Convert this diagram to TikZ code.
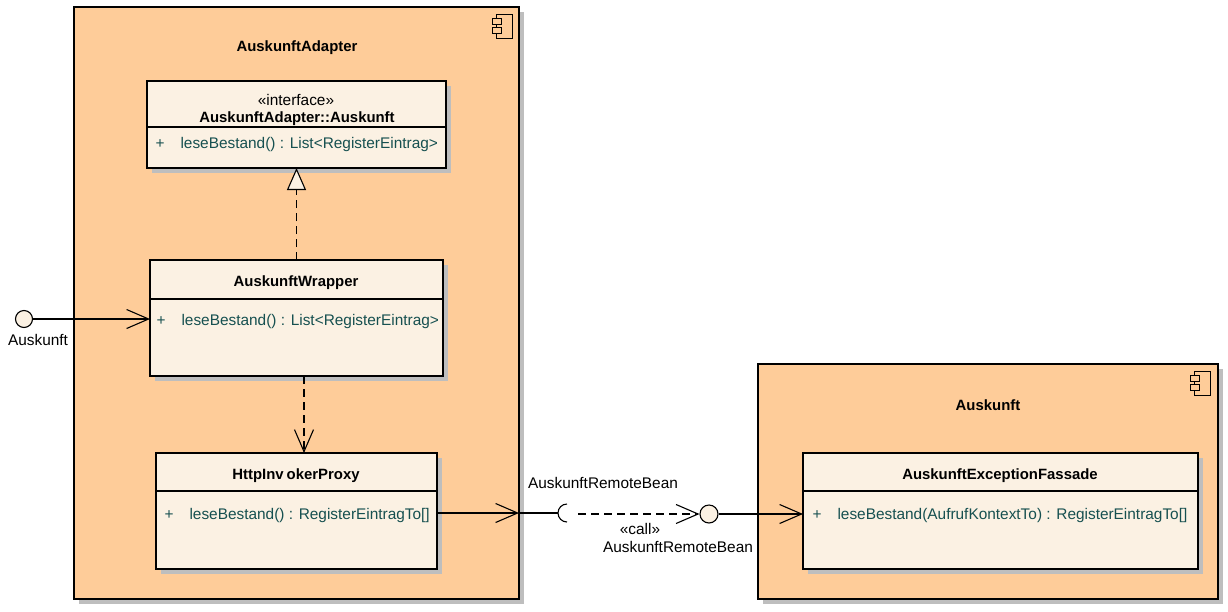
\documentclass[tikz,border=0pt]{standalone}
\usepackage{fontspec}
\setmainfont{Liberation Sans}
\usetikzlibrary{arrows.meta,shadows}
\definecolor{compfill}{RGB}{254,204,153}
\definecolor{classfill}{RGB}{251,241,227}
\definecolor{attrcolor}{RGB}{22,80,80}
\definecolor{shadowgray}{RGB}{190,190,190}
\newcommand{\umlclass}[5]{%
 \node[classbox,minimum width=#3,minimum height=#4] (#1) at (#2) {};%
 \draw ([yshift=-#5]#1.north west) -- ([yshift=-#5]#1.north east);%
}
\newcommand{\umlattr}[3]{%
 \node[attrtext] (#1) at (#2) {\makebox[25pt][l]{+}#3};%
}
\newcommand{\compicon}[2]{%
 \coordinate (#1) at (#2);%
 \draw[line width=1pt] (#1) rectangle ++(-16,24);%
 \draw[line width=1pt,fill=compfill] ([shift={(-20,4)}]#1) rectangle ++(9,6);%
 \draw[line width=1pt,fill=compfill] ([shift={(-20,13)}]#1) rectangle ++(9,6);%
}

\begin{document}
\begin{tikzpicture}[x=1pt,y=-1pt,line width=1.1pt,
  every node/.style={font=\fontsize{15.4}{18}\selectfont},
  compbox/.style={draw,fill=compfill,anchor=north west,inner sep=0,outer sep=0,
   drop shadow={shadow xshift=5pt,shadow yshift=-5pt,fill=shadowgray,opacity=1}},
  classbox/.style={draw,fill=classfill,anchor=north west,inner sep=0,outer sep=0,
   drop shadow={shadow xshift=5pt,shadow yshift=-5pt,fill=shadowgray,opacity=1}},
  titletext/.style={font=\fontsize{14.9}{17}\selectfont\bfseries},
  attrtext/.style={anchor=west,inner sep=0,text=attrcolor},
  portcircle/.style={draw,circle,fill=classfill,inner sep=0},
  openarrow/.style={-{Straight Barb[length=22pt,width=19pt]}},
  dashedline/.style={dash pattern=on 8pt off 5pt}]
  \useasboundingbox[fill=white] (0,0) rectangle (1228,611);
  \node[compbox,minimum width=445pt,minimum height=592pt] (adapter) at (74,7) {};
  \compicon{adaptericon}{512,14}
  \node[titletext] (adaptertitle) at (297,48) {AuskunftAdapter};
  \node[compbox,minimum width=460pt,minimum height=235pt] (auskunft) at (758,364) {};
  \compicon{auskunfticon}{1210,371}
  \node[titletext] (auskunfttitle) at (988,405) {Auskunft};

  \umlclass{interface}{147,81}{299pt}{87pt}{46pt}
  \node (interfacestereo) at (296,100) {«interface»};
  \node[titletext] (interfacetitle) at (297,119) {AuskunftAdapter::Auskunft};
  \umlattr{interfaceattr}{155,145}{leseBestand() : List<RegisterEintrag>}
  \umlclass{wrapper}{150,260}{293pt}{116pt}{39pt}
  \node[titletext] (wrappertitle) at (296,283) {AuskunftWrapper};
  \umlattr{wrapperattr}{156,322}{leseBestand() : List<RegisterEintrag>}
  \umlclass{proxy}{156,453}{281pt}{116pt}{38pt}
  \node[titletext] (proxytitle) at (296,476) {HttpInv\kern3pt okerProxy};
  \umlattr{proxyattr}{164,516}{leseBestand() : RegisterEintragTo[]}
  \umlclass{fassade}{803,453}{395pt}{116pt}{38pt}
  \node[titletext] (fassadetitle) at (1000,476) {AuskunftExceptionFassade};
  \umlattr{fassadeattr}{812,516}{leseBestand(AufrufKontextTo) : RegisterEintragTo[]}

  \draw[dashedline,-{Triangle[open,length=22pt,width=19pt,fill=classfill]}] (wrapper.north) -- (interface.south);
  \draw[dashedline,openarrow] ([xshift=7.5pt]wrapper.south) -- ([xshift=7.5pt]proxy.north);

  \node[portcircle,minimum size=17pt] (auskunftport) at (24,319) {};
  \node (auskunftlabel) at (38,340) {Auskunft};
  \draw[openarrow] (auskunftport) -- (auskunftport -| wrapper.west);

  \coordinate (adapterport) at (519,513);
  \coordinate (socket) at (567,513);
  \coordinate (callstart) at (578,514);
  \node[portcircle,minimum size=18pt] (remoteport) at (709,514) {};
  \draw[openarrow] (proxy.east |- adapterport) -- (adapterport);
  \draw (adapterport) -- ([xshift=-9pt]socket);
  \draw ([yshift=9pt]socket) arc[start angle=90,end angle=270,radius=9pt];
  \draw[dashedline,openarrow] (callstart) -- (remoteport);
  \draw[openarrow] (remoteport) -- (remoteport -| fassade.west);
  \node (remotelabel) at (603,483) {AuskunftRemoteBean};
  \node (calllabel) at (640,529) {«call»};
  \node (remotebeanlabel) at (678,547) {AuskunftRemoteBean};
\end{tikzpicture}
\end{document}
